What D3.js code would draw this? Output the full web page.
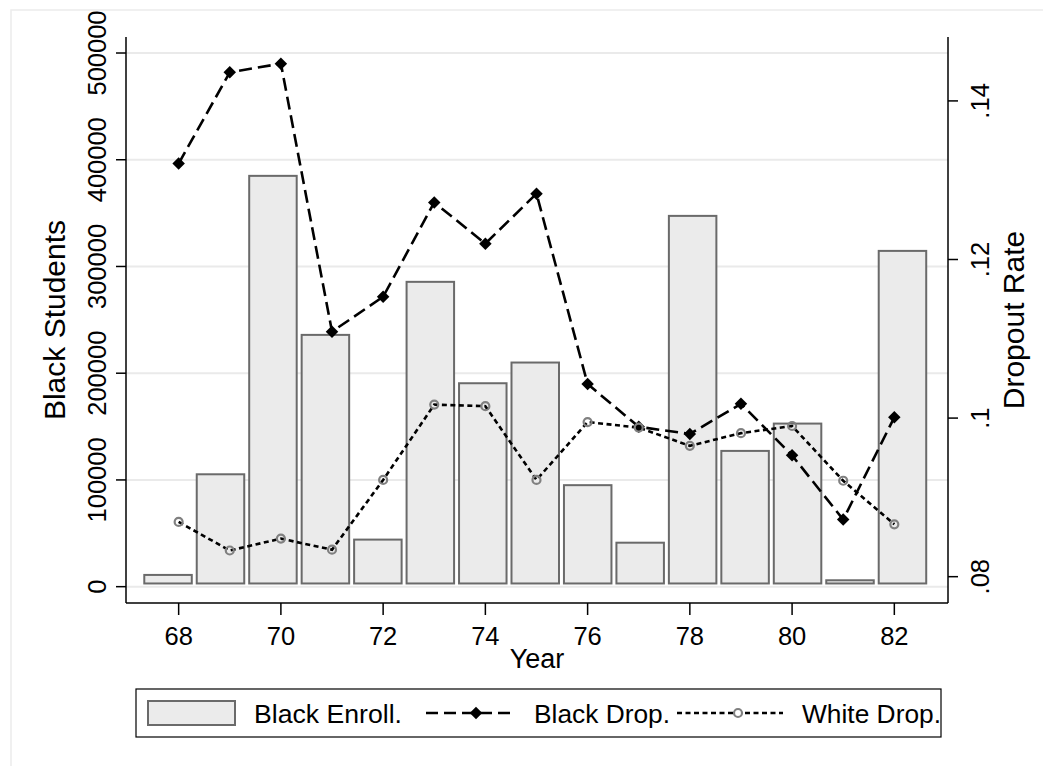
<!DOCTYPE html>
<html>
<head>
<meta charset="utf-8">
<script src="https://cdn.jsdelivr.net/npm/d3@7"></script>
<style>
  html, body { margin: 0; padding: 0; background: #fff; }
  svg { display: block; }
  text { font-family: "Liberation Sans", Arial, sans-serif; fill: #000; }
</style>
</head>
<body>
<svg id="chart" width="1043" height="766"></svg>
<script>
// ---- data ----
const years = [68, 69, 70, 71, 72, 73, 74, 75, 76, 77, 78, 79, 80, 81, 82];
const blackEnroll = [11000, 105300, 384900, 235900, 44100, 285600, 190600, 210000, 95100, 41200, 347400, 127200, 152800, 6000, 314600];
const barBase = 3000;
const blackDrop = [0.1321, 0.1436, 0.1447, 0.1109, 0.1153, 0.1272, 0.1220, 0.1283, 0.1043, 0.0989, 0.0980, 0.1018, 0.0953, 0.0872, 0.1001];
const whiteDrop = [0.0869, 0.0833, 0.0848, 0.0834, 0.0922, 0.1017, 0.1015, 0.0922, 0.0995, 0.0988, 0.0965, 0.0981, 0.0990, 0.0921, 0.0866];
const xTicks = [68, 70, 72, 74, 76, 78, 80, 82];
const yLeftTicks = [0, 100000, 200000, 300000, 400000, 500000];
const yRightTicks = [0.08, 0.10, 0.12, 0.14];
const yRightLabels = [".08", ".1", ".12", ".14"];
const legendLabels = ["Black Enroll.", "Black Drop.", "White Drop."];
const xTitle = "Year", yLeftTitle = "Black Students", yRightTitle = "Dropout Rate";

// ---- layout ----
const svg = d3.select("#chart");
const L = 126, R = 948, T = 37, B = 603;
const longDash = "13,6", shortDash = "5,3.5", lw = 2.6;

// outer graph region border
svg.append("rect").attr("x", 11).attr("y", 10).attr("width", 1060).attr("height", 800)
  .attr("fill", "none").attr("stroke", "#ececec").attr("stroke-width", 1.5);

const x = d3.scaleLinear().domain([66.97, 83.05]).range([L, R]);
const xBar = d3.scaleBand().domain(years).range([141.8, 928.7]).paddingInner(0.0564).paddingOuter(0.0282);
const yL = d3.scaleLinear().domain([-15300, 515000]).range([B, T]);
const yR = d3.scaleLinear().domain([0.07668, 0.14806]).range([B, T]);

// gridlines
svg.append("g").selectAll("line").data(yLeftTicks).join("line")
  .attr("x1", L).attr("x2", R)
  .attr("y1", d => yL(d)).attr("y2", d => yL(d))
  .attr("stroke", "#eaeaea").attr("stroke-width", 2);

// bars
svg.append("g").selectAll("rect").data(years).join("rect")
  .attr("x", d => xBar(d) + 1)
  .attr("width", xBar.bandwidth() - 2)
  .attr("y", (d, i) => yL(blackEnroll[i]))
  .attr("height", (d, i) => yL(barBase) - yL(blackEnroll[i]))
  .attr("fill", "#ebebeb").attr("stroke", "#6a6a6a").attr("stroke-width", 2);

// black dropout line
const lineB = d3.line().x((d, i) => x(years[i])).y(d => yR(d));
svg.append("path").datum(blackDrop).attr("d", lineB)
  .attr("fill", "none").attr("stroke", "#000").attr("stroke-width", lw)
  .attr("stroke-dasharray", longDash);
const diamond = d3.symbol().type(d3.symbolSquare).size(78);
svg.append("g").selectAll("path").data(blackDrop).join("path")
  .attr("d", diamond())
  .attr("transform", (d, i) => `translate(${x(years[i])},${yR(d)}) rotate(45)`)
  .attr("fill", "#000");

// white dropout line
const lineW = d3.line().x((d, i) => x(years[i])).y(d => yR(d));
svg.append("path").datum(whiteDrop).attr("d", lineW)
  .attr("fill", "none").attr("stroke", "#000").attr("stroke-width", lw)
  .attr("stroke-dasharray", shortDash);
svg.append("g").selectAll("circle").data(whiteDrop).join("circle")
  .attr("cx", (d, i) => x(years[i])).attr("cy", d => yR(d)).attr("r", 4)
  .attr("fill", "none").attr("stroke", "#808080").attr("stroke-width", 2.2);

// axes lines
const axisColor = "#000";
svg.append("line").attr("x1", L).attr("x2", L).attr("y1", T).attr("y2", B).attr("stroke", axisColor).attr("stroke-width", 1.5);
svg.append("line").attr("x1", R).attr("x2", R).attr("y1", T).attr("y2", B).attr("stroke", axisColor).attr("stroke-width", 1.5);
svg.append("line").attr("x1", L).attr("x2", R).attr("y1", B).attr("y2", B).attr("stroke", axisColor).attr("stroke-width", 1.5);

// x axis
const gx = svg.append("g");
gx.selectAll("line").data(xTicks).join("line")
  .attr("x1", d => x(d)).attr("x2", d => x(d)).attr("y1", B).attr("y2", B + 12)
  .attr("stroke", axisColor).attr("stroke-width", 1.5);
gx.selectAll("text").data(xTicks).join("text")
  .attr("x", d => x(d)).attr("y", 645).attr("text-anchor", "middle")
  .attr("font-size", 25.5).text(d => d);
svg.append("text").attr("x", (L + R) / 2).attr("y", 668).attr("text-anchor", "middle")
  .attr("font-size", 27).text(xTitle);

// left y axis
const gl = svg.append("g");
gl.selectAll("line").data(yLeftTicks).join("line")
  .attr("x1", L - 10).attr("x2", L).attr("y1", d => yL(d)).attr("y2", d => yL(d))
  .attr("stroke", axisColor).attr("stroke-width", 1.5);
gl.selectAll("text").data(yLeftTicks).join("text")
  .attr("transform", d => `translate(106,${yL(d)}) rotate(-90)`)
  .attr("text-anchor", "middle").attr("font-size", 25.5).text(d => d);
svg.append("text").attr("transform", `translate(65,${(T + B) / 2}) rotate(-90)`)
  .attr("text-anchor", "middle").attr("font-size", 30).text(yLeftTitle);

// right y axis
const gr = svg.append("g");
gr.selectAll("line").data(yRightTicks).join("line")
  .attr("x1", R).attr("x2", R + 10).attr("y1", d => yR(d)).attr("y2", d => yR(d))
  .attr("stroke", axisColor).attr("stroke-width", 1.5);
gr.selectAll("text").data(yRightTicks).join("text")
  .attr("transform", d => `translate(989,${yR(d)}) rotate(-90)`)
  .attr("text-anchor", "middle").attr("font-size", 25.5).text((d, i) => yRightLabels[i]);
svg.append("text").attr("transform", `translate(1024,${(T + B) / 2}) rotate(-90)`)
  .attr("text-anchor", "middle").attr("font-size", 30).text(yRightTitle);

// legend
const lg = svg.append("g");
lg.append("rect").attr("x", 136).attr("y", 689).attr("width", 805).attr("height", 48)
  .attr("fill", "#fff").attr("stroke", "#000").attr("stroke-width", 1.2);
lg.append("rect").attr("x", 148).attr("y", 701).attr("width", 87).attr("height", 24)
  .attr("fill", "#ebebeb").attr("stroke", "#6a6a6a").attr("stroke-width", 2);
lg.append("line").attr("x1", 426).attr("x2", 512).attr("y1", 713).attr("y2", 713)
  .attr("stroke", "#000").attr("stroke-width", lw).attr("stroke-dasharray", "12,6");
lg.append("path").attr("d", diamond()).attr("transform", "translate(476,713) rotate(45)").attr("fill", "#000");
lg.append("line").attr("x1", 677).attr("x2", 783).attr("y1", 713).attr("y2", 713)
  .attr("stroke", "#000").attr("stroke-width", lw).attr("stroke-dasharray", shortDash);
lg.append("circle").attr("cx", 738).attr("cy", 713).attr("r", 4)
  .attr("fill", "#fff").attr("stroke", "#808080").attr("stroke-width", 2.2);
const legX = [254, 534, 802];
lg.selectAll("text.lab").data(legendLabels).join("text").attr("class", "lab")
  .attr("x", (d, i) => legX[i]).attr("y", 722.5).attr("font-size", 26.5)
  .attr("textLength", (d, i) => [148, 136, 139][i]).attr("lengthAdjust", "spacingAndGlyphs")
  .text(d => d);
</script>
</body>
</html>
